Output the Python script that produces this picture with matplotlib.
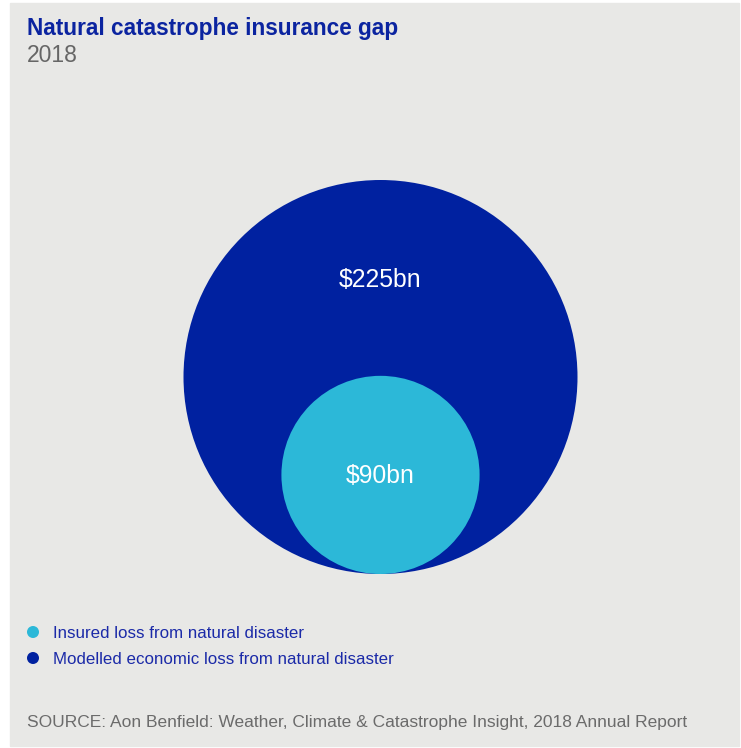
import matplotlib.pyplot as plt
from matplotlib.patches import Circle, Rectangle

# values in $bn
labels = ["Insured loss from natural disaster", "Modelled economic loss from natural disaster"]
values = [90, 225]
value_text = ["$90bn", "$225bn"]
colors = ["#2cb8d8", "#0021a0"]

title = "Natural catastrophe insurance gap"
subtitle = "2018"
source = "SOURCE: Aon Benfield: Weather, Climate & Catastrophe Insight, 2018 Annual Report"

W, H = 741, 748
fig = plt.figure(figsize=(W / 100, H / 100), dpi=100, facecolor="white")
ax = fig.add_axes([0, 0, 1, 1])
ax.set_xlim(0, W)
ax.set_ylim(H, 0)
ax.axis("off")

ax.add_patch(Rectangle((10, 3), 729, 743, color="#e8e8e6", zorder=0))

font = ["Liberation Sans", "DejaVu Sans"]

ax.text(27, 28, title, fontsize=16.3, fontweight="bold", color="#0b24a0",
        family=font, va="center", ha="left")
ax.text(27, 55, subtitle, fontsize=16.5, color="#666666", family=font,
        va="center", ha="left")

# nested bubbles sitting on a common baseline
cx, base, rmax = 380.5, 574, 197
vmax = max(values)
order = sorted(range(len(values)), key=lambda i: -values[i])
for i in order:
    r = rmax * (values[i] / vmax) ** 0.75
    cy = base - r
    ax.add_patch(Circle((cx, cy), r, color=colors[i], zorder=2, lw=0))
    ty = cy if values[i] != vmax else cy - r / 2
    ax.text(cx, ty + 1, value_text[i], fontsize=17.8, color="white", family=font,
            ha="center", va="center", zorder=3)

# legend
for k, (lab, col) in enumerate(zip(labels, colors)):
    y = 632 + k * 26
    ax.add_patch(Circle((33, y), 6, color=col, lw=0))
    ax.text(53, y + 1, lab, fontsize=12.2, color="#1b2aa8", family=font,
            va="center", ha="left")

ax.text(27, 723, source, fontsize=12.5, color="#6b6b6b", family=font,
        va="center", ha="left")

fig.savefig("out.png", dpi=100, facecolor="white")
